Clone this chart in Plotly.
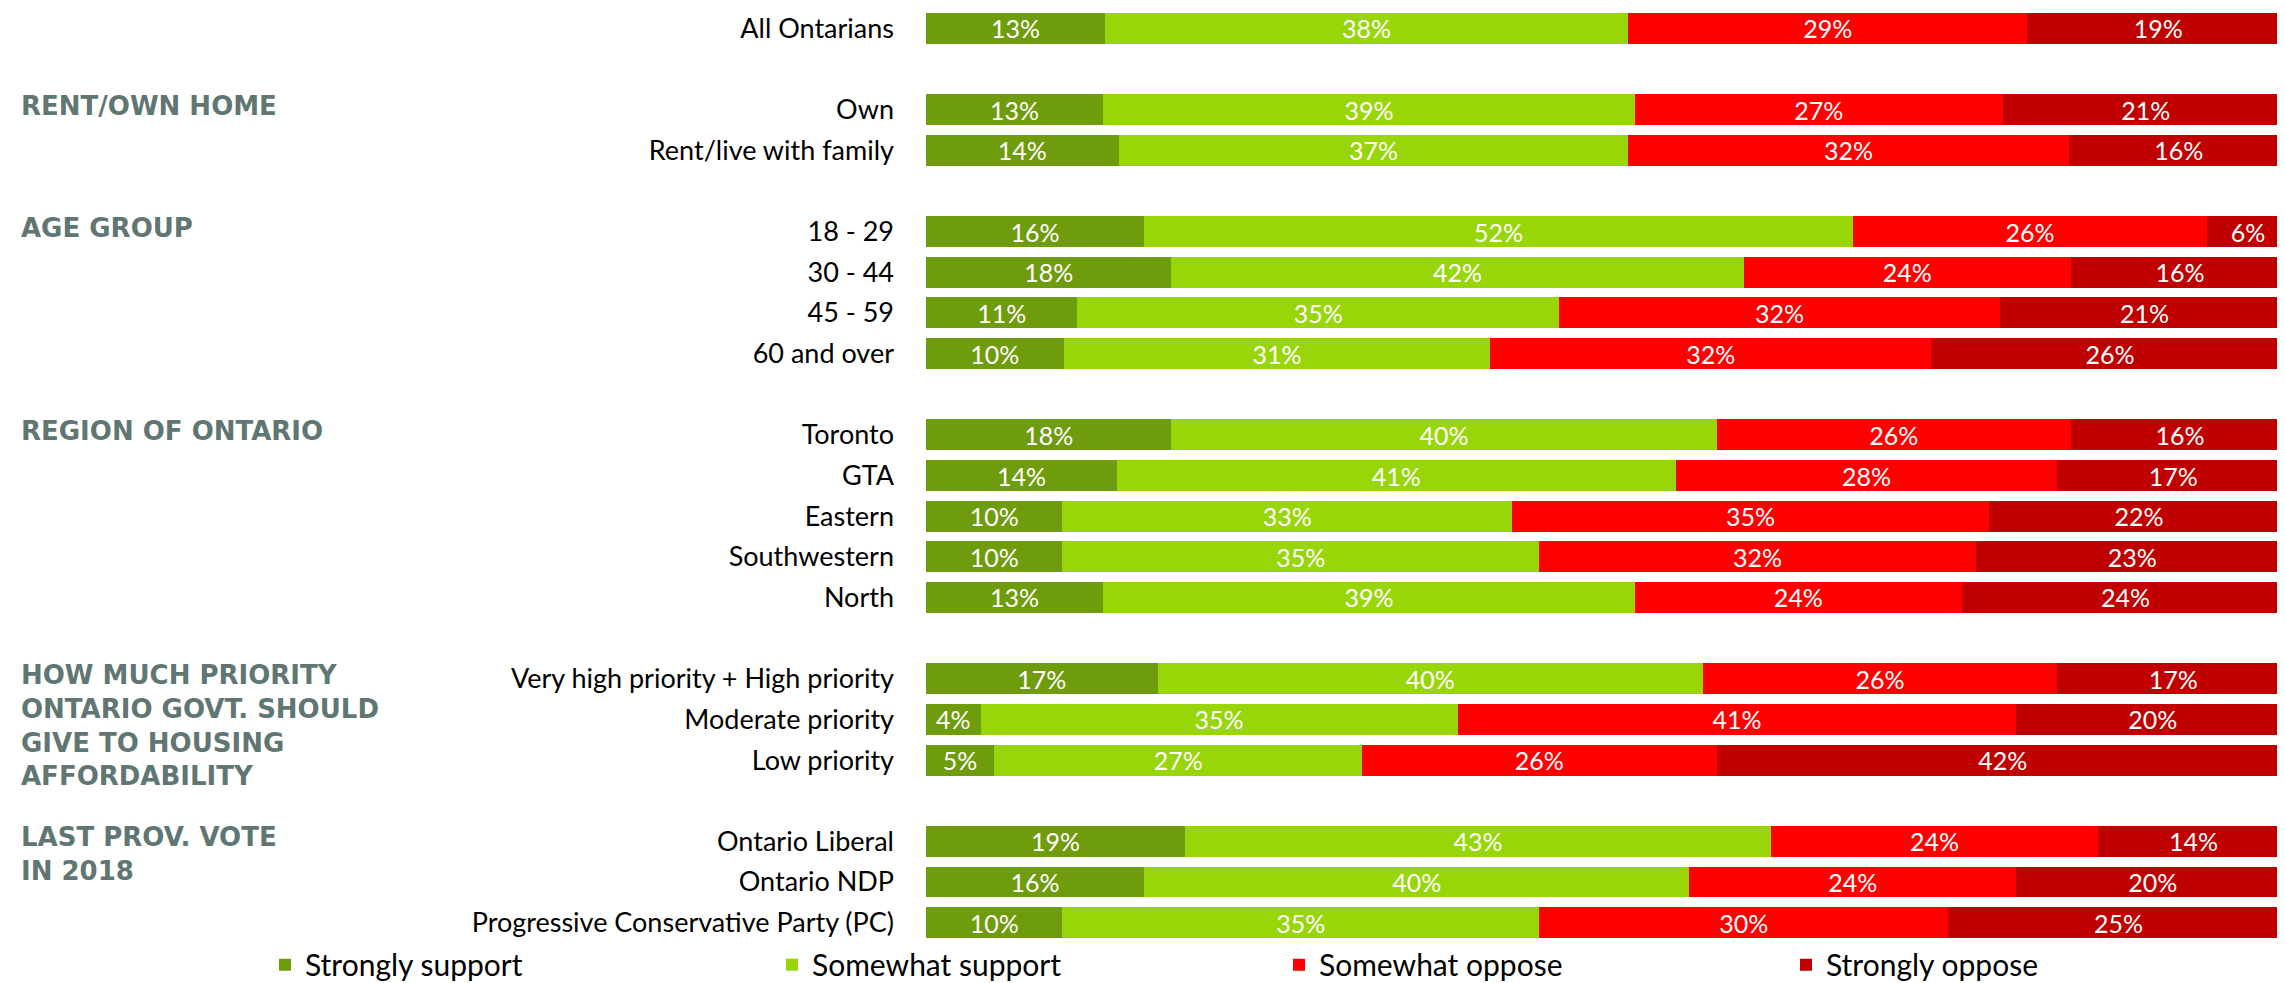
import plotly.graph_objects as go

# ---- data ----
group_titles = [
    "",
    "RENT/OWN HOME",
    "AGE GROUP",
    "REGION OF ONTARIO",
    "HOW MUCH PRIORITY<br>ONTARIO GOVT. SHOULD<br>GIVE TO HOUSING<br>AFFORDABILITY",
    "LAST PROV. VOTE<br>IN 2018",
]
group_rows = [
    ["All Ontarians"],
    ["Own", "Rent/live with family"],
    ["18 - 29", "30 - 44", "45 - 59", "60 and over"],
    ["Toronto", "GTA", "Eastern", "Southwestern", "North"],
    ["Very high priority + High priority", "Moderate priority", "Low priority"],
    ["Ontario Liberal", "Ontario NDP", "Progressive Conservative Party (PC)"],
]
series_names = ["Strongly support", "Somewhat support", "Somewhat oppose", "Strongly oppose"]
strongly_support = [13, 13, 14, 16, 18, 11, 10, 18, 14, 10, 10, 13, 17, 4, 5, 19, 16, 10]
somewhat_support = [38, 39, 37, 52, 42, 35, 31, 40, 41, 33, 35, 39, 40, 35, 27, 43, 40, 35]
somewhat_oppose = [29, 27, 32, 26, 24, 32, 32, 26, 28, 35, 32, 24, 26, 41, 26, 24, 24, 30]
strongly_oppose = [19, 21, 16, 6, 16, 21, 26, 16, 17, 22, 23, 24, 17, 20, 42, 14, 20, 25]
series_values = [strongly_support, somewhat_support, somewhat_oppose, strongly_oppose]
series_colors = ["#6f9c0c", "#98d60a", "#ff0000", "#c00000"]

# ---- row layout (one blank slot between groups) ----
labels, ypos, header_pos = [], [], []
idx = 0
for gi, rows in enumerate(group_rows):
    if gi > 0:
        idx += 1
    header_pos.append(idx)
    for r in rows:
        labels.append(r)
        ypos.append(idx)
        idx += 1
n_slots = idx

W, H = 2285, 983
ML, MR, MT, MB = 918, 4, 0, 39
plot_w = W - ML - MR
plot_h = H - MT - MB
LABEL_FONT = "Lato, Carlito, Calibri, sans-serif"
HEAD_FONT = "DejaVu Sans, sans-serif"
HEAD_SIZE = 26

fig = go.Figure()
for name, vals, col in zip(series_names, series_values, series_colors):
    fig.add_trace(go.Bar(
        name=name, y=ypos, x=vals, orientation="h",
        marker=dict(color=col, line=dict(width=0)),
        text=[f"{v}%" for v in vals],
        textposition="inside", insidetextanchor="middle", textangle=0,
        textfont=dict(color="white", size=25, family=LABEL_FONT),
        hoverinfo="skip",
    ))

for title, yp in zip(group_titles, header_pos):
    if not title:
        continue
    fig.add_annotation(
        text=title, xref="paper", yref="y", x=-(ML - 12) / plot_w, y=yp,
        xanchor="left", yanchor="top", yshift=HEAD_SIZE * 0.65 + 3,
        align="left", showarrow=False, borderpad=0,
        font=dict(family=HEAD_FONT, size=HEAD_SIZE, color="#5f7672", weight="bold"),
    )

fig.update_layout(
    width=W, height=H, barmode="stack", barnorm="percent", bargap=0.24,
    margin=dict(l=ML, r=MR, t=MT, b=MB, pad=0),
    plot_bgcolor="white", paper_bgcolor="white",
    font=dict(family=LABEL_FONT, size=27, color="black"),
    uniformtext=dict(minsize=25, mode="show"),
    showlegend=True,
    legend=dict(
        orientation="h", xref="paper", yref="paper",
        x=(264 - ML) / plot_w, y=-(966 - (H - MB)) / plot_h,
        xanchor="left", yanchor="middle",
        entrywidth=462, entrywidthmode="pixels", traceorder="normal",
        font=dict(family=LABEL_FONT, size=30, color="black"),
    ),
)
fig.update_xaxes(range=[0, 100], visible=False, fixedrange=True)
fig.update_yaxes(
    range=[n_slots - 0.5, -0.5], tickmode="array", tickvals=ypos, ticktext=labels,
    showgrid=False, zeroline=False, showline=False, ticks="", ticklabelstandoff=31,
    tickfont=dict(family=LABEL_FONT, size=27, color="black"), fixedrange=True,
)

fig.write_html("out.html")
